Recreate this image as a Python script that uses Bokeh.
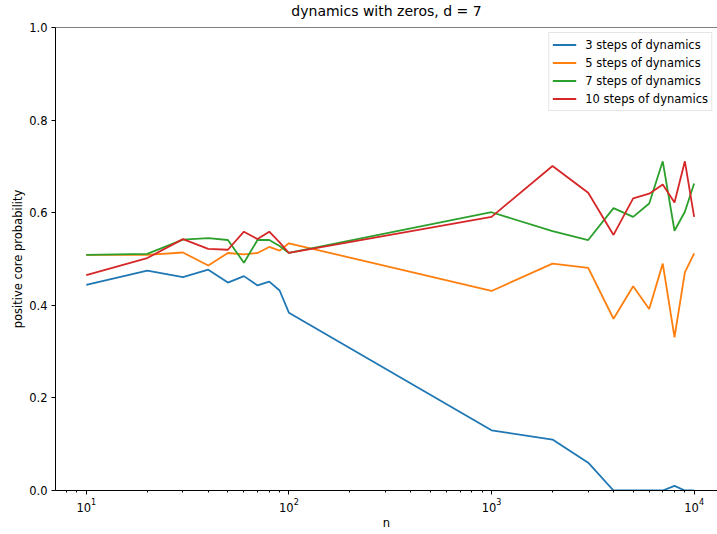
from bokeh.plotting import figure
from bokeh.models import Range1d, FixedTicker, PrintfTickFormatter, Span, Legend, LegendItem, Title
from bokeh.embed import file_html
from bokeh.resources import INLINE

n = [10, 20, 30, 40, 50, 60, 70, 80, 90, 100, 1000, 2000, 3000, 4000, 5000, 6000, 7000, 8000, 9000, 10000]
steps3 = [0.444, 0.475, 0.461, 0.477, 0.449, 0.463, 0.443, 0.451, 0.432, 0.384, 0.13, 0.11, 0.06, 0.0, 0.0, 0.0, 0.0, 0.01, 0.0, 0.0]
steps5 = [0.509, 0.509, 0.514, 0.486, 0.513, 0.51, 0.513, 0.526, 0.518, 0.534, 0.431, 0.49, 0.481, 0.371, 0.441, 0.392, 0.49, 0.331, 0.471, 0.512]
steps7 = [0.509, 0.511, 0.542, 0.545, 0.541, 0.492, 0.541, 0.541, 0.528, 0.513, 0.601, 0.56, 0.541, 0.61, 0.591, 0.62, 0.711, 0.561, 0.602, 0.663]
steps10 = [0.465, 0.502, 0.543, 0.522, 0.52, 0.559, 0.543, 0.559, 0.536, 0.513, 0.591, 0.701, 0.643, 0.552, 0.631, 0.641, 0.661, 0.622, 0.711, 0.591]
series = [("3 steps of dynamics", steps3, "#1f77b4"),
          ("5 steps of dynamics", steps5, "#ff7f0e"),
          ("7 steps of dynamics", steps7, "#2ca02c"),
          ("10 steps of dynamics", steps10, "#d62728")]
x_major = [10, 100, 1000, 10000]
x_minor = [m * 10 ** e for e in range(0, 5) for m in range(2, 10)]
y_ticks = [0.0, 0.2, 0.4, 0.6, 0.8, 1.0]
title_text = "dynamics with zeros, d = 7"

FONT = "DejaVu Sans"

p = figure(width=717, height=534, x_axis_type="log",
           x_range=Range1d(7.05, 13040), y_range=Range1d(0, 1),
           output_backend="svg", toolbar_location=None,
           min_border_left=55, min_border_right=0, min_border_top=26, min_border_bottom=44)
p.outline_line_color = None
p.grid.visible = False
p.background_fill_color = "white"
p.border_fill_color = "white"

# small spacer next to the frame, then the real title above it
p.add_layout(Title(text=" ", text_font_size="1px", standoff=6), "above")
p.add_layout(Title(text=title_text, text_font=FONT, text_font_size="14px",
                   text_font_style="normal", text_color="black",
                   align="center", standoff=0), "above")

items = []
for label, ys, color in series:
    r = p.line(n, ys, line_color=color, line_width=1.8)
    items.append(LegendItem(label=label, renderers=[r]))

# top spine
p.add_layout(Span(location=1.0, dimension="width", line_color="black", line_width=1))

for ax in (p.xaxis[0], p.yaxis[0]):
    ax.axis_line_color = "black"
    ax.major_tick_line_color = "black"
    ax.minor_tick_line_color = "black"
    ax.major_tick_in = 0
    ax.major_tick_out = 4
    ax.minor_tick_in = 0
    ax.minor_tick_out = 2
    ax.major_label_text_font = FONT
    ax.major_label_text_font_size = "11.5px"
    ax.major_label_text_color = "black"
    ax.axis_label_text_font = FONT
    ax.axis_label_text_font_size = "11.5px"
    ax.axis_label_text_font_style = "normal"
    ax.axis_label_text_color = "black"

p.xaxis[0].ticker = FixedTicker(ticks=x_major, minor_ticks=x_minor)
p.xaxis[0].axis_label = "n"
p.xaxis[0].major_label_standoff = 3
p.xaxis[0].axis_label_standoff = 1

p.yaxis[0].ticker = FixedTicker(ticks=y_ticks)
p.yaxis[0].formatter = PrintfTickFormatter(format="%.1f")
p.yaxis[0].minor_tick_line_color = None
p.yaxis[0].axis_label = "positive core probability"
p.yaxis[0].major_label_standoff = 4
p.yaxis[0].axis_label_standoff = 1

legend = Legend(items=items, location="top_right", margin=5,
                label_text_font=FONT, label_text_font_size="11.5px",
                label_text_color="black",
                glyph_width=24, glyph_height=17, label_height=17, spacing=1,
                label_standoff=9, padding=3,
                border_line_color="#cccccc", border_line_width=1,
                background_fill_alpha=0.8)
p.add_layout(legend)

open("out.html", "w").write(file_html(p, INLINE))
